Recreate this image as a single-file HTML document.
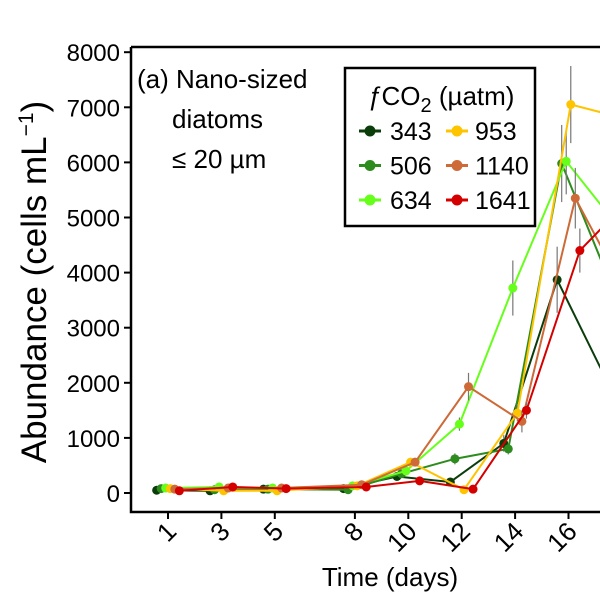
<!DOCTYPE html>
<html><head><meta charset="utf-8"><style>
html,body{margin:0;padding:0;background:#fff;overflow:hidden}
svg{display:block;font-family:"Liberation Sans",sans-serif}
</style></head><body>
<svg id="chart" width="600" height="600" viewBox="0 0 600 600">
<defs><clipPath id="pc"><rect x="131" y="47" width="480" height="465"/></clipPath></defs>
<g id="marks" clip-path="url(#pc)"></g>
<path d="M131,47 H600 M131,47 V512 H600" fill="none" stroke="#000" stroke-width="2.5"/>
<g id="yaxis"></g>
<g id="xaxis"></g>
<text transform="translate(46,282) rotate(-90)" text-anchor="middle" font-size="35">Abundance (cells mL<tspan dy="-13" font-size="21">−1</tspan><tspan dy="13">)</tspan></text>
<text x="390" y="586" text-anchor="middle" font-size="26">Time (days)</text>
<g font-size="26">
<text x="137" y="88">(a) Nano-sized</text>
<text x="172" y="128">diatoms</text>
<text x="172" y="168">≤ 20 µm</text>
</g>
<g id="legend">
<rect x="345" y="68" width="190" height="158" fill="#fff" stroke="#000" stroke-width="2.5"/>
<text x="367" y="105" font-size="26"><tspan font-style="italic">ƒ</tspan>CO<tspan dy="7" font-size="20">2</tspan><tspan dy="-7"> (µatm)</tspan></text>
</g>
</svg>
<script>
const days=[1,3,5,8,10,12,14,16,18];
const treatments=["343","506","634","953","1140","1641"];
const colors=["#0b3d0b","#2e8b1e","#66ff1a","#ffc400","#cd6a38","#d40000"];
const v343=[50,40,70,80,300,200,900,3870,1900];
const v506=[80,60,70,60,350,620,800,5980,3600];
const v634=[90,110,90,130,400,1250,3720,6020,4800];
const v953=[80,40,40,130,560,60,1450,7050,6800];
const v1140=[70,90,90,150,560,1930,1300,5350,3540];
const v1641=[40,110,80,110,220,70,1500,4400,5400];
const e343=[20,20,20,20,40,60,150,600,300];
const e506=[20,20,20,20,40,100,100,700,300];
const e634=[20,20,20,20,40,120,500,600,300];
const e953=[20,20,20,20,40,30,150,700,300];
const e1140=[20,20,20,20,40,250,200,550,300];
const e1641=[20,20,20,20,40,30,150,400,300];
const yTicks=[0,1000,2000,3000,4000,5000,6000,7000,8000];
const xTicks=[1,3,5,8,10,12,14,16];
const series=[v343,v506,v634,v953,v1140,v1641];
const errs=[e343,e506,e634,e953,e1140,e1641];
const NS="http://www.w3.org/2000/svg";
function X(d){return 141.3+26.7*d;}
function Y(v){return 493-v*0.0551;}
function mk(t,a,p){const e=document.createElementNS(NS,t);for(const k in a)e.setAttribute(k,a[k]);p.appendChild(e);return e;}
const ya=document.getElementById('yaxis');
yTicks.forEach(t=>{
  const l=mk('line',{x1:124,x2:131,y1:Y(t),y2:Y(t),stroke:'#000','stroke-width':2},ya);
  
  
  const tx=mk('text',{x:120,y:Y(t)+9,'text-anchor':'end','font-size':24},ya);
  tx.textContent=t;
  
  
});
const xa=document.getElementById('xaxis');
xTicks.forEach(t=>{
  const l=mk('line',{x1:X(t),x2:X(t),y1:512,y2:519,stroke:'#000','stroke-width':2},xa);
  
  
  const tx=mk('text',{transform:`translate(${X(t)+10},${533}) rotate(-45)`,'text-anchor':'end','font-size':26},xa);
  tx.textContent=t;
  
  
});
const g=document.getElementById('marks');
series.forEach((s,i)=>{
  const off=(i-2.5)*0.17;
  const pts=s.map((v,j)=>[X(days[j]+off),Y(v)]);
  s.forEach((v,j)=>{
    const e=errs[i][j];
    const eb=mk('line',{x1:pts[j][0],x2:pts[j][0],y1:Y(v+e),y2:Y(v-e),stroke:'#777','stroke-width':1.2},g);
    
    
  });
  const pl=mk('polyline',{points:pts.map(p=>p.join(',')).join(' '),fill:'none',stroke:colors[i],'stroke-width':2},g);
  
  
  pts.forEach(p=>{
    const c=mk('circle',{cx:p[0],cy:p[1],r:4.5,fill:colors[i]},g);
    
    
  });
});
const lg=document.getElementById('legend');
treatments.forEach((t,i)=>{
  const col=Math.floor(i/3),row=i%3;
  const cx=col?457:370, cy=131+row*34.5;
  const it=mk('g',{},lg);
  
  
  mk('line',{x1:cx-11,x2:cx+11,y1:cy,y2:cy,stroke:colors[i],'stroke-width':3},it);
  mk('circle',{cx:cx,cy:cy,r:5.5,fill:colors[i]},it);
  const tx=mk('text',{x:col?475:390,y:cy+9,'font-size':25},it);
  tx.textContent=t;
});
</script>
</body></html>
